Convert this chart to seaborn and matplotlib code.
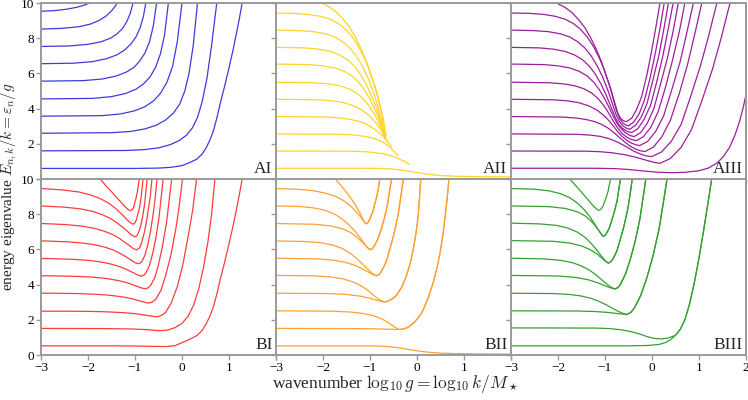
import pandas as pd
import matplotlib
matplotlib.use('Agg')
import matplotlib.pyplot as plt
import seaborn as sns

# curves, one inner list per eigenvalue branch
AI_X = [
    [-3, -1.0, -0.5, -0.25, 0.0, 0.15, 0.31, 0.43, 0.52, 0.6, 0.67, 0.74, 0.81, 0.9, 0.99, 1.08, 1.16, 1.22, 1.28],
    [-3, -1.2, -0.8, -0.5, -0.25, -0.05, 0.1, 0.22, 0.33, 0.43, 0.53, 0.63, 0.74],
    [-3, -1.5, -1.1, -0.8, -0.55, -0.35, -0.18, -0.05, 0.06, 0.15, 0.24, 0.33],
    [-3, -1.7, -1.3, -1.0, -0.78, -0.6, -0.45, -0.32, -0.2, -0.1, 0.0],
    [-3, -1.9, -1.5, -1.2, -0.98, -0.82, -0.68, -0.56, -0.46, -0.37, -0.29],
    [-3, -2.1, -1.7, -1.4, -1.18, -1.02, -0.9, -0.79, -0.69, -0.61, -0.54],
    [-3, -2.3, -1.9, -1.6, -1.38, -1.22, -1.09, -0.98, -0.89, -0.82, -0.77],
    [-3, -2.4, -2.0, -1.72, -1.52, -1.38, -1.26, -1.17, -1.1, -1.04],
    [-3, -2.55, -2.2, -1.95, -1.77, -1.62, -1.5, -1.43, -1.38],
    [-3, -2.7, -2.45, -2.25, -2.1, -1.96],
]
AI_Y = [
    [0.6, 0.6, 0.62, 0.66, 0.76, 0.92, 1.12, 1.42, 1.8, 2.25, 2.75, 3.45, 4.25, 5.2, 6.2, 7.25, 8.3, 9.1, 10],
    [1.6, 1.62, 1.67, 1.77, 1.95, 2.2, 2.5, 2.9, 3.5, 4.4, 5.7, 7.6, 10],
    [2.6, 2.63, 2.7, 2.84, 3.05, 3.35, 3.75, 4.25, 5.0, 6.0, 7.6, 10],
    [3.57, 3.6, 3.7, 3.88, 4.12, 4.45, 4.9, 5.5, 6.4, 7.8, 10],
    [4.55, 4.58, 4.68, 4.86, 5.1, 5.4, 5.8, 6.35, 7.1, 8.2, 10],
    [5.56, 5.59, 5.68, 5.85, 6.08, 6.35, 6.7, 7.15, 7.8, 8.7, 10],
    [6.55, 6.58, 6.67, 6.84, 7.06, 7.33, 7.66, 8.07, 8.6, 9.25, 10],
    [7.53, 7.56, 7.65, 7.8, 8.0, 8.25, 8.57, 8.97, 9.42, 10],
    [8.52, 8.56, 8.65, 8.8, 9.0, 9.25, 9.55, 9.78, 10],
    [9.53, 9.57, 9.65, 9.75, 9.86, 10],
]

AII_X = [
    [-3, -1.2, -0.8, -0.55, -0.35, -0.15, 0.05, 0.25, 0.5, 0.8, 1.2, 1.6, 2.0],
    [-3, -1.4, -1.1, -0.9, -0.72, -0.56, -0.43, -0.3, -0.16],
    [-3, -1.6, -1.3, -1.1, -0.95, -0.82, -0.7, -0.6, -0.5, -0.4],
    [-3, -1.9, -1.6, -1.4, -1.22, -1.07, -0.94, -0.82, -0.72, -0.63, -0.54],
    [-3, -2.1, -1.8, -1.55, -1.35, -1.18, -1.04, -0.92, -0.82, -0.73, -0.64],
    [-3, -2.2, -1.9, -1.65, -1.45, -1.28, -1.14, -1.02, -0.91, -0.82, -0.74, -0.66],
    [-3, -2.3, -2.0, -1.75, -1.55, -1.38, -1.24, -1.12, -1.01, -0.91, -0.82, -0.74, -0.67],
    [-3, -2.4, -2.1, -1.85, -1.65, -1.48, -1.34, -1.21, -1.09, -0.98, -0.87, -0.77, -0.68],
    [-3, -2.5, -2.2, -1.95, -1.75, -1.58, -1.43, -1.3, -1.17, -1.05, -0.94, -0.84, -0.76, -0.68],
    [-3, -2.6, -2.3, -2.05, -1.85, -1.67, -1.52, -1.38, -1.25, -1.13, -1.02, -0.92, -0.83, -0.75, -0.66],
    [-2.03, -1.85, -1.7, -1.56, -1.43, -1.31, -1.19, -1.08, -0.98, -0.88, -0.79, -0.72, -0.66],
]
AII_Y = [
    [0.61, 0.61, 0.6, 0.57, 0.51, 0.43, 0.34, 0.26, 0.2, 0.16, 0.135, 0.125, 0.12],
    [1.59, 1.58, 1.55, 1.5, 1.43, 1.33, 1.2, 1.04, 0.83],
    [2.56, 2.54, 2.49, 2.42, 2.33, 2.21, 2.05, 1.86, 1.62, 1.33],
    [3.55, 3.52, 3.46, 3.38, 3.26, 3.1, 2.9, 2.66, 2.42, 2.14, 1.84],
    [4.53, 4.5, 4.44, 4.33, 4.16, 3.93, 3.65, 3.33, 2.99, 2.6, 2.15],
    [5.5, 5.47, 5.41, 5.3, 5.13, 4.88, 4.55, 4.15, 3.7, 3.25, 2.78, 2.25],
    [6.53, 6.5, 6.43, 6.31, 6.12, 5.86, 5.5, 5.07, 4.58, 4.05, 3.5, 2.92, 2.3],
    [7.48, 7.45, 7.38, 7.25, 7.05, 6.78, 6.43, 5.98, 5.42, 4.8, 4.1, 3.3, 2.33],
    [8.46, 8.43, 8.37, 8.25, 8.07, 7.8, 7.45, 7.02, 6.45, 5.8, 5.05, 4.2, 3.4, 2.37],
    [9.43, 9.41, 9.35, 9.24, 9.08, 8.83, 8.5, 8.08, 7.55, 6.93, 6.25, 5.45, 4.6, 3.75, 2.42],
    [10, 9.75, 9.45, 9.05, 8.6, 8.05, 7.4, 6.7, 5.9, 5.15, 4.25, 3.45, 2.45],
]

AIII_X = [
    [-3, -1.2, -0.8, -0.5, -0.2, 0.1, 0.4, 0.7, 1.0, 1.2, 1.38, 1.52, 1.65, 1.76, 1.86, 1.94, 2.0],
    [-3, -1.4, -1.1, -0.85, -0.6, -0.35, -0.1, 0.05, 0.17, 0.39, 0.62, 0.84, 1.06, 1.29, 1.48, 1.66],
    [-3, -1.6, -1.3, -1.1, -0.9, -0.72, -0.55, -0.4, -0.25, -0.12, -0.01, 0.2, 0.41, 0.62, 0.82, 1.03, 1.21, 1.38],
    [-3, -1.9, -1.6, -1.4, -1.22, -1.07, -0.94, -0.82, -0.7, -0.58, -0.46, -0.34, -0.24, -0.15,
     0.03, 0.21, 0.39, 0.58, 0.76, 0.91, 1.06],
    [-3, -2.1, -1.8, -1.55, -1.35, -1.18, -1.04, -0.92, -0.82, -0.72, -0.62, -0.52, -0.42, -0.34, -0.26,
     -0.09, 0.08, 0.25, 0.42, 0.6, 0.74, 0.88],
    [-3, -2.2, -1.9, -1.65, -1.45, -1.28, -1.14, -1.02, -0.91, -0.82, -0.73, -0.64, -0.55, -0.46, -0.39, -0.33,
     -0.18, -0.02, 0.13, 0.29, 0.44, 0.58, 0.7],
    [-3, -2.3, -2.0, -1.75, -1.55, -1.38, -1.24, -1.12, -1.01, -0.91, -0.82, -0.74, -0.66, -0.58, -0.5, -0.44, -0.38,
     -0.24, -0.1, 0.04, 0.18, 0.33, 0.45, 0.56],
    [-3, -2.4, -2.1, -1.85, -1.65, -1.48, -1.34, -1.21, -1.09, -0.98, -0.88, -0.79, -0.71, -0.63, -0.55, -0.49, -0.43,
     -0.3, -0.17, -0.03, 0.1, 0.23, 0.34, 0.45],
    [-3, -2.5, -2.2, -1.95, -1.75, -1.58, -1.43, -1.3, -1.17, -1.05, -0.94, -0.85, -0.77, -0.69, -0.61, -0.54, -0.47,
     -0.35, -0.22, -0.1, 0.02, 0.15, 0.25, 0.35],
    [-3, -2.6, -2.3, -2.05, -1.85, -1.67, -1.52, -1.38, -1.25, -1.13, -1.02, -0.92, -0.83, -0.75, -0.68, -0.61, -0.55,
     -0.5, -0.39, -0.27, -0.16, -0.04, 0.07, 0.17, 0.26],
    [-2.03, -1.85, -1.7, -1.56, -1.43, -1.31, -1.19, -1.08, -0.98, -0.88, -0.79, -0.72, -0.66, -0.6, -0.54,
     -0.43, -0.33, -0.22, -0.11, -0.01, 0.08, 0.17],
]
AIII_Y = [
    [0.61, 0.61, 0.59, 0.54, 0.46, 0.39, 0.36, 0.38, 0.47, 0.62, 0.9, 1.27, 1.8, 2.45, 3.25, 4.05, 4.8],
    [1.59, 1.58, 1.55, 1.49, 1.39, 1.24, 1.05, 0.94, 0.89, 1.16, 1.8, 2.8, 4.44, 6.26, 8.09, 10],
    [2.56, 2.54, 2.49, 2.42, 2.28, 2.08, 1.84, 1.6, 1.42, 1.31, 1.27, 1.53, 2.14, 3.1, 4.67, 6.42, 8.17, 10],
    [3.55, 3.52, 3.46, 3.38, 3.26, 3.1, 2.9, 2.66, 2.38, 2.1, 1.86, 1.69, 1.6, 1.56,
     1.81, 2.4, 3.33, 4.85, 6.54, 8.23, 10],
    [4.53, 4.5, 4.44, 4.33, 4.16, 3.93, 3.65, 3.33, 3.0, 2.66, 2.38, 2.17, 2.02, 1.94, 1.9,
     2.14, 2.71, 3.6, 5.06, 6.68, 8.3, 10],
    [5.5, 5.47, 5.41, 5.3, 5.13, 4.88, 4.55, 4.15, 3.7, 3.27, 2.9, 2.6, 2.4, 2.27, 2.21, 2.18,
     2.41, 2.96, 3.82, 5.23, 6.79, 8.36, 10],
    [6.53, 6.5, 6.43, 6.31, 6.12, 5.86, 5.5, 5.07, 4.58, 4.05, 3.55, 3.15, 2.87, 2.66, 2.52, 2.45, 2.41,
     2.64, 3.17, 4.0, 5.37, 6.89, 8.41, 10],
    [7.48, 7.45, 7.38, 7.25, 7.05, 6.78, 6.43, 5.98, 5.42, 4.8, 4.15, 3.55, 3.12, 2.88, 2.74, 2.67, 2.64,
     2.86, 3.38, 4.19, 5.51, 6.98, 8.45, 10],
    [8.46, 8.43, 8.37, 8.25, 8.07, 7.8, 7.45, 7.02, 6.45, 5.8, 5.05, 4.35, 3.7, 3.25, 3.0, 2.88, 2.83,
     3.05, 3.55, 4.34, 5.63, 7.06, 8.49, 10],
    [9.43, 9.41, 9.35, 9.24, 9.08, 8.83, 8.5, 8.08, 7.55, 6.93, 6.25, 5.45, 4.6, 3.85, 3.4, 3.16, 3.06,
     3.02, 3.23, 3.72, 4.49, 5.74, 7.14, 8.54, 10],
    [10, 9.75, 9.45, 9.05, 8.6, 8.05, 7.4, 6.7, 5.9, 5.15, 4.3, 3.7, 3.42, 3.3, 3.26,
     3.46, 3.93, 4.68, 5.89, 7.24, 8.58, 10],
]

BI_X = [
    [-3, -1.5, -1.0, -0.6, -0.33, -0.15, 0.0, 0.15, 0.31, 0.43, 0.52, 0.6, 0.67, 0.74, 0.81, 0.9, 0.99, 1.08, 1.16, 1.22, 1.28],
    [-3, -1.6, -1.1, -0.8, -0.6, -0.47, -0.3, -0.15, 0.0, 0.13, 0.25, 0.36, 0.46, 0.55, 0.63, 0.7],
    [-3, -2.52, -2.02, -1.67, -1.42, -1.22, -1.04, -0.89, -0.77, -0.67, -0.59, -0.52,
     -0.44, -0.35, -0.23, -0.1, 0.02, 0.14, 0.23, 0.31],
    [-3, -2.7, -2.2, -1.85, -1.6, -1.4, -1.22, -1.07, -0.95, -0.85, -0.77, -0.7,
     -0.63, -0.56, -0.45, -0.35, -0.24, -0.13, -0.06, 0.01],
    [-3, -2.78, -2.28, -1.93, -1.68, -1.48, -1.3, -1.15, -1.03, -0.93, -0.85, -0.78,
     -0.72, -0.67, -0.58, -0.5, -0.42, -0.33, -0.28, -0.22],
    [-3, -2.86, -2.36, -2.01, -1.76, -1.56, -1.38, -1.23, -1.11, -1.01, -0.93, -0.86,
     -0.81, -0.77, -0.7, -0.63, -0.56, -0.49, -0.45, -0.4],
    [-3, -2.93, -2.43, -2.08, -1.83, -1.63, -1.45, -1.3, -1.18, -1.08, -1.0, -0.93,
     -0.89, -0.85, -0.79, -0.73, -0.67, -0.61, -0.57, -0.53],
    [-3, -2.97, -2.47, -2.12, -1.87, -1.67, -1.49, -1.34, -1.22, -1.12, -1.04, -0.97,
     -0.94, -0.9, -0.86, -0.81, -0.76, -0.71, -0.67, -0.64],
    [-3, -2.5, -2.15, -1.9, -1.7, -1.52, -1.37, -1.25, -1.15, -1.07, -1.0,
     -0.97, -0.95, -0.91, -0.87, -0.83, -0.79, -0.77, -0.74],
    [-3, -2.54, -2.19, -1.94, -1.74, -1.56, -1.41, -1.29, -1.19, -1.11, -1.04,
     -1.02, -1.0, -0.97, -0.94, -0.9, -0.87, -0.85, -0.83],
    [-1.74, -1.62, -1.5, -1.4, -1.31, -1.24, -1.18, -1.14, -1.1,
     -1.08, -1.06, -1.03, -1.01, -0.98, -0.95, -0.93, -0.91],
]
BI_Y = [
    [0.52, 0.52, 0.51, 0.49, 0.48, 0.53, 0.7, 0.88, 1.09, 1.4, 1.8, 2.25, 2.75, 3.45, 4.25, 5.2, 6.2, 7.25, 8.3, 9.1, 10],
    [1.51, 1.5, 1.48, 1.45, 1.41, 1.38, 1.42, 1.55, 1.8, 2.2, 2.85, 3.8, 5.0, 6.4, 8.0, 10],
    [2.49, 2.49, 2.48, 2.46, 2.43, 2.4, 2.36, 2.31, 2.26, 2.22, 2.19, 2.17,
     2.25, 2.41, 2.95, 3.89, 5.15, 6.87, 8.28, 10],
    [3.51, 3.51, 3.49, 3.45, 3.41, 3.35, 3.28, 3.2, 3.11, 3.04, 2.98, 2.95,
     3.02, 3.16, 3.66, 4.5, 5.63, 7.18, 8.45, 10],
    [4.5, 4.5, 4.47, 4.43, 4.37, 4.29, 4.2, 4.09, 3.97, 3.88, 3.8, 3.76,
     3.82, 3.95, 4.38, 5.13, 6.13, 7.5, 8.63, 10],
    [5.48, 5.48, 5.44, 5.38, 5.3, 5.2, 5.07, 4.92, 4.77, 4.64, 4.53, 4.48,
     4.54, 4.65, 5.03, 5.69, 6.58, 7.79, 8.79, 10],
    [6.48, 6.48, 6.43, 6.35, 6.25, 6.12, 5.95, 5.75, 5.56, 5.39, 5.25, 5.18,
     5.23, 5.32, 5.66, 6.24, 7.01, 8.07, 8.94, 10],
    [7.47, 7.47, 7.41, 7.32, 7.2, 7.05, 6.86, 6.64, 6.41, 6.22, 6.05, 5.98,
     6.02, 6.1, 6.38, 6.86, 7.51, 8.39, 9.12, 10],
    [8.47, 8.4, 8.3, 8.16, 7.98, 7.75, 7.49, 7.23, 7.0, 6.81, 6.72,
     6.75, 6.82, 7.05, 7.44, 7.97, 8.69, 9.28, 10],
    [9.46, 9.38, 9.26, 9.09, 8.89, 8.63, 8.32, 8.02, 7.75, 7.53, 7.43,
     7.46, 7.51, 7.69, 8.0, 8.41, 8.97, 9.43, 10],
    [10, 9.62, 9.28, 8.98, 8.72, 8.51, 8.35, 8.25, 8.2,
     8.22, 8.25, 8.38, 8.6, 8.88, 9.28, 9.6, 10],
]

BII_X = [
    [-3, -1.0, -0.75, -0.55, -0.38, -0.22, -0.06, 0.1, 0.28, 0.5, 0.8, 1.2, 1.6, 2.0],
    [-3, -1.2, -0.8, -0.55, -0.38,
     -0.3, -0.22, -0.15, -0.05, 0.05, 0.13, 0.24, 0.35, 0.43, 0.49, 0.55, 0.6, 0.64, 0.68],
    [-3, -1.8, -1.4, -1.15, -0.95, -0.8, -0.67, -0.56, -0.48, -0.42, -0.38,
     -0.3, -0.22, -0.15, -0.05, 0.05, 0.13, 0.24, 0.35, 0.43, 0.49, 0.55, 0.6, 0.64, 0.68],
    [-3, -1.9, -1.5, -1.22, -1.0, -0.85, -0.75, -0.69,
     -0.62, -0.54, -0.43, -0.32, -0.22, -0.14, -0.08, -0.02, 0.03, 0.08],
    [-3, -2.2, -1.85, -1.6, -1.4, -1.23, -1.09, -0.97, -0.86, -0.78, -0.72, -0.69,
     -0.62, -0.54, -0.43, -0.32, -0.22, -0.14, -0.08, -0.02, 0.03, 0.08],
    [-3, -2.1, -1.75, -1.5, -1.3, -1.14, -1.02, -0.93, -0.86,
     -0.8, -0.75, -0.66, -0.58, -0.49, -0.4, -0.35, -0.29],
    [-3, -2.4, -2.05, -1.8, -1.6, -1.43, -1.29, -1.16, -1.05, -0.97, -0.91, -0.86,
     -0.8, -0.75, -0.66, -0.58, -0.49, -0.4, -0.35, -0.29],
    [-3, -2.2, -1.85, -1.6, -1.42, -1.28, -1.17, -1.09, -1.04, -1.0,
     -0.95, -0.91, -0.84, -0.77, -0.7, -0.63, -0.59, -0.54],
    [-3, -2.5, -2.2, -1.95, -1.75, -1.58, -1.43, -1.3, -1.19, -1.11, -1.05, -1.0,
     -0.95, -0.91, -0.84, -0.77, -0.7, -0.63, -0.59, -0.54],
    [-3, -2.5, -2.2, -1.95, -1.75, -1.58, -1.44, -1.33, -1.24, -1.17, -1.12, -1.09,
     -1.06, -1.03, -0.99, -0.94, -0.9, -0.85, -0.82, -0.79],
    [-1.74, -1.64, -1.54, -1.45, -1.37, -1.3, -1.24, -1.19, -1.15, -1.12, -1.09,
     -1.06, -1.03, -0.99, -0.94, -0.9, -0.85, -0.82, -0.79],
]
BII_Y = [
    [0.52, 0.52, 0.5, 0.46, 0.4, 0.33, 0.26, 0.2, 0.15, 0.11, 0.08, 0.065, 0.055, 0.05],
    [1.51, 1.5, 1.48, 1.46, 1.45,
     1.47, 1.54, 1.65, 1.87, 2.2, 2.55, 3.25, 4.16, 5.0, 5.8, 6.8, 7.9, 8.85, 10],
    [2.51, 2.49, 2.44, 2.36, 2.25, 2.11, 1.94, 1.75, 1.6, 1.5, 1.45,
     1.47, 1.54, 1.65, 1.87, 2.2, 2.55, 3.25, 4.16, 5.0, 5.8, 6.8, 7.9, 8.85, 10],
    [3.51, 3.49, 3.44, 3.35, 3.22, 3.11, 3.04, 3.01,
     3.06, 3.16, 3.4, 3.88, 4.54, 5.25, 6.0, 6.95, 8.0, 10],
    [4.52, 4.5, 4.44, 4.34, 4.19, 3.99, 3.76, 3.5, 3.26, 3.11, 3.04, 3.01,
     3.06, 3.16, 3.4, 3.88, 4.54, 5.25, 6.0, 6.95, 8.0, 10],
    [5.5, 5.46, 5.38, 5.25, 5.07, 4.86, 4.69, 4.56, 4.5,
     4.58, 4.78, 5.27, 5.99, 6.87, 7.97, 8.9, 10],
    [6.48, 6.45, 6.38, 6.25, 6.06, 5.8, 5.5, 5.17, 4.88, 4.68, 4.56, 4.5,
     4.58, 4.78, 5.27, 5.99, 6.87, 7.97, 8.9, 10],
    [7.47, 7.43, 7.34, 7.18, 6.97, 6.7, 6.42, 6.2, 6.06, 5.98,
     6.04, 6.18, 6.54, 7.07, 7.71, 8.51, 9.2, 10],
    [8.47, 8.44, 8.36, 8.22, 8.0, 7.7, 7.35, 6.98, 6.6, 6.3, 6.1, 5.98,
     6.04, 6.18, 6.54, 7.07, 7.71, 8.51, 9.2, 10],
    [9.46, 9.41, 9.33, 9.2, 9.03, 8.8, 8.53, 8.25, 7.98, 7.74, 7.55, 7.45,
     7.49, 7.58, 7.81, 8.14, 8.55, 9.06, 9.49, 10],
    [10, 9.7, 9.38, 9.07, 8.77, 8.48, 8.2, 7.95, 7.73, 7.56, 7.45,
     7.49, 7.58, 7.81, 8.14, 8.55, 9.06, 9.49, 10],
]

BIII_X = [
    [-3, -0.5, -0.1, 0.15, 0.3, 0.4, 0.5, 0.6, 0.7, 0.8, 0.9, 1.0, 1.1, 1.19, 1.27],
    [-3, -1.2, -0.9, -0.65, -0.45, -0.27, -0.1, 0.05, 0.2, 0.35, 0.5, 0.6, 0.7, 0.8, 0.9, 1.0, 1.1, 1.19, 1.27],
    [-3, -1.6, -1.2, -0.95, -0.78, -0.65, -0.54,
     -0.45, -0.37, -0.24, -0.11, 0.02, 0.15, 0.23, 0.32],
    [-3, -2.1, -1.75, -1.5, -1.3, -1.13, -0.98, -0.85, -0.74, -0.65, -0.59, -0.54,
     -0.45, -0.37, -0.24, -0.11, 0.02, 0.15, 0.23, 0.32],
    [-3, -2.0, -1.6, -1.35, -1.15, -1.0, -0.89, -0.79,
     -0.72, -0.66, -0.56, -0.46, -0.36, -0.26, -0.2, -0.13],
    [-3, -2.3, -1.95, -1.7, -1.5, -1.33, -1.18, -1.05, -0.95, -0.86, -0.79,
     -0.72, -0.66, -0.56, -0.46, -0.36, -0.26, -0.2, -0.13],
    [-3, -2.1, -1.75, -1.5, -1.31, -1.16, -1.05, -0.98, -0.93,
     -0.88, -0.83, -0.75, -0.68, -0.6, -0.52, -0.47, -0.42],
    [-3, -2.4, -2.05, -1.8, -1.6, -1.43, -1.29, -1.17, -1.07, -0.99, -0.93,
     -0.88, -0.83, -0.75, -0.68, -0.6, -0.52, -0.47, -0.42],
    [-3, -2.2, -1.85, -1.6, -1.42, -1.28, -1.17, -1.09, -1.04,
     -1.0, -0.97, -0.91, -0.86, -0.8, -0.74, -0.71, -0.67],
    [-3, -2.5, -2.2, -1.95, -1.75, -1.58, -1.44, -1.32, -1.22, -1.14, -1.08, -1.04,
     -1.0, -0.97, -0.91, -0.86, -0.8, -0.74, -0.71, -0.67],
    [-1.75, -1.64, -1.54, -1.45, -1.37, -1.3, -1.24, -1.19, -1.16, -1.13,
     -1.11, -1.08, -1.04, -1.01, -0.97, -0.93, -0.91, -0.88],
]
BIII_Y = [
    [0.52, 0.52, 0.54, 0.6, 0.72, 0.88, 1.12, 1.45, 2.0, 2.9, 4.1, 5.5, 7.1, 8.6, 10],
    [1.54, 1.53, 1.5, 1.43, 1.33, 1.2, 1.04, 0.94, 0.91, 0.97, 1.12, 1.45, 2.0, 2.9, 4.1, 5.5, 7.1, 8.6, 10],
    [2.51, 2.5, 2.47, 2.42, 2.37, 2.33, 2.3,
     2.42, 2.69, 3.38, 4.38, 5.61, 7.15, 8.46, 10],
    [3.51, 3.49, 3.44, 3.35, 3.22, 3.05, 2.86, 2.67, 2.51, 2.4, 2.34, 2.3,
     2.42, 2.69, 3.38, 4.38, 5.61, 7.15, 8.46, 10],
    [4.52, 4.49, 4.4, 4.27, 4.1, 3.93, 3.82, 3.75,
     3.84, 4.06, 4.63, 5.44, 6.44, 7.69, 8.75, 10],
    [5.5, 5.46, 5.38, 5.25, 5.06, 4.82, 4.53, 4.23, 4.0, 3.84, 3.75,
     3.84, 4.06, 4.63, 5.44, 6.44, 7.69, 8.75, 10],
    [6.5, 6.46, 6.36, 6.2, 5.98, 5.72, 5.46, 5.3, 5.22,
     5.29, 5.46, 5.89, 6.51, 7.28, 8.23, 9.04, 10],
    [7.49, 7.45, 7.37, 7.22, 7.0, 6.7, 6.33, 5.95, 5.6, 5.35, 5.22,
     5.29, 5.46, 5.89, 6.51, 7.28, 8.23, 9.04, 10],
    [8.47, 8.43, 8.33, 8.15, 7.9, 7.57, 7.22, 6.92, 6.74,
     6.79, 6.9, 7.2, 7.62, 8.14, 8.79, 9.35, 10],
    [9.46, 9.42, 9.33, 9.17, 8.94, 8.62, 8.25, 7.85, 7.45, 7.1, 6.87, 6.74,
     6.79, 6.9, 7.2, 7.62, 8.14, 8.79, 9.35, 10],
    [10, 9.68, 9.38, 9.1, 8.85, 8.63, 8.45, 8.32, 8.26, 8.22,
     8.25, 8.31, 8.47, 8.7, 8.99, 9.34, 9.64, 10],
]

PANEL_NAMES = ['AI', 'AII', 'AIII', 'BI', 'BII', 'BIII']
PANEL_COLORS = ['#3c3cdc', '#ffd42a', '#9b1f9b', '#ff3c3c', '#ffa033', '#34a034']
PANEL_DATA = [(AI_X, AI_Y), (AII_X, AII_Y), (AIII_X, AIII_Y),
              (BI_X, BI_Y), (BII_X, BII_Y), (BIII_X, BIII_Y)]


def to_frame(xs, ys):
    parts = []
    for i, (cx, cy) in enumerate(zip(xs, ys)):
        parts.append(pd.DataFrame({'x': cx, 'y': cy, 'curve': i}))
    return pd.concat(parts, ignore_index=True)


sns.set_theme(style='white')
plt.rcParams['font.family'] = ['Liberation Serif', 'DejaVu Serif']
plt.rcParams['mathtext.fontset'] = 'cm'

fig, axes = plt.subplots(2, 3, figsize=(7.48, 4.0), dpi=100)
fig.subplots_adjust(left=0.0548, right=0.9973, bottom=0.1125, top=0.9925,
                    wspace=0, hspace=0)

grey = '#9a9a9a'
for k, ax in enumerate(axes.flat):
    xs, ys = PANEL_DATA[k]
    df = to_frame(xs, ys)
    sns.lineplot(data=df, x='x', y='y', units='curve', estimator=None,
                 sort=False, color=PANEL_COLORS[k], lw=0.9, ax=ax, legend=False)
    ax.set_xlim(-3, 2)
    ax.set_ylim(0, 10)
    ax.set_xlabel('')
    ax.set_ylabel('')
    for sp in ax.spines.values():
        sp.set_color(grey)
        sp.set_linewidth(1.4)
    ax.tick_params(bottom=True, left=True, direction='out', length=3.5,
                   width=1, color=grey, labelcolor='black', labelsize=9.5, pad=1.5)
    row, col = divmod(k, 3)
    if row == 1:
        if col == 2:
            ax.set_xticks([-3, -2, -1, 0, 1, 2], ['−3', '−2', '−1', '0', '1', '2'])
        else:
            ax.set_xticks([-3, -2, -1, 0, 1, 2], ['−3', '−2', '−1', '0', '1', ''])
    else:
        ax.set_xticks([-3, -2, -1, 0, 1, 2])
        ax.tick_params(labelbottom=False)
    if col == 0:
        if row == 0:
            ax.set_yticks([0, 2, 4, 6, 8, 10], ['', '2', '4', '6', '8', '10'])
        else:
            ax.set_yticks([0, 2, 4, 6, 8, 10], ['0', '2', '4', '6', '8', '10'])
    else:
        ax.set_yticks([0, 2, 4, 6, 8, 10])
        ax.tick_params(labelleft=False)
    ax.text(0.985, 0.012, PANEL_NAMES[k], transform=ax.transAxes,
            ha='right', va='bottom', fontsize=12.5)

fig.text(0.0125, 0.532, r'energy eigenvalue $E_{n,k}/k = \varepsilon_n/g$',
         rotation=90, ha='center', va='center', fontsize=11)
fig.text(0.528, 0.012, r'wavenumber $\log_{10}g = \log_{10}k/M_\star$',
         ha='center', va='bottom', fontsize=12.5)

fig.savefig('out.png', dpi=100)
